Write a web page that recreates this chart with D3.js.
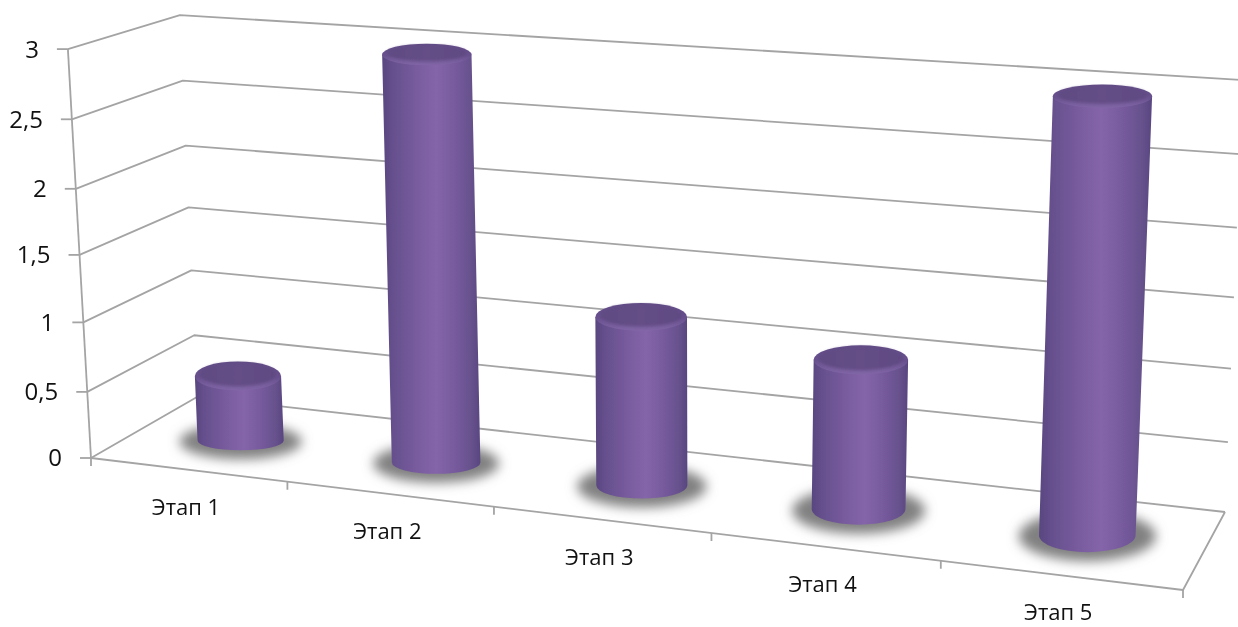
<!DOCTYPE html>
<html><head><meta charset="utf-8">
<script src="https://cdn.jsdelivr.net/npm/d3@7/dist/d3.min.js"></script>
<style>html,body{margin:0;padding:0;background:#fff}svg{display:block}text{font-family:"Open Sans","Noto Sans",sans-serif;fill:#111}</style>
</head><body><svg id="c" width="1238" height="627"></svg>
<script>
const categories = ["Этап 1","Этап 2","Этап 3","Этап 4","Этап 5"];
const values = [0.5,3,1.22,1.06,3.02];
const yTicks = [0,0.5,1,1.5,2,2.5,3];
const yTickLabels = ["0","0,5","1","1,5","2","2,5","3"];

const W=1238,H=627;
const svg=d3.select("#c");
// floor corners and per-unit vertical edge vectors of the 3D box
const FL=[91,458],FR=[1183,590],BL=[197,397],BR=[1225,512];
const dFL=[-7.7,-136.3],dFR=[7,-150],dBL=[-5.7,-127.3],dBR=[6,-144];
const lerp=(a,b,k)=>[a[0]+(b[0]-a[0])*k,a[1]+(b[1]-a[1])*k];
const bil=(a,b,c,d,t,v)=>lerp(lerp(a,b,t),lerp(c,d,t),v);
const K=1.14;
const uScale=d3.scaleLinear().domain([0,categories.length]).range([0,1]);
const zScale=d3.scaleLinear().domain(yTicks).range([0,0.485,0.995,1.49,1.975,2.485,3]);
const persp=u=>u/(u+K*(1-u));
const tOf=i=>persp(uScale(i));
const P=(t,v,z)=>{const f=bil(FL,FR,BL,BR,t,v),d=bil(dFL,dFR,dBL,dBR,t,v),w=zScale(z);return [f[0]+d[0]*w,f[1]+d[1]*w];};

const defs=svg.append("defs");
const bg=defs.append("linearGradient").attr("id","body");
[[0,"#584680"],[0.1,"#654f8c"],[0.32,"#765a9c"],[0.55,"#8565aa"],[0.78,"#73589a"],[0.93,"#64508a"],[1,"#574580"]]
 .forEach(s=>bg.append("stop").attr("offset",s[0]).attr("stop-color",s[1]));
const tg=defs.append("linearGradient").attr("id","topface").attr("x1",0).attr("x2",1).attr("y1",0).attr("y2",0);
[[0,"#5f4b82"],[0.5,"#654e86"],[1,"#5f4a82"]].forEach(s=>tg.append("stop").attr("offset",s[0]).attr("stop-color",s[1]));
const rg=defs.append("linearGradient").attr("id","rim").attr("x1",0).attr("x2",0).attr("y1",0).attr("y2",1);
[[0,"#604b84"],[0.55,"#69518f"],[1,"#8166a6"]].forEach(s=>rg.append("stop").attr("offset",s[0]).attr("stop-color",s[1]));
defs.append("filter").attr("id","soft").append("feGaussianBlur").attr("stdDeviation",0.6);
defs.append("filter").attr("id","softer").append("feGaussianBlur").attr("stdDeviation",1.4);
const sf=defs.append("filter").attr("id","shadowBlur").attr("x","-30%").attr("y","-80%").attr("width","160%").attr("height","260%");
sf.append("feGaussianBlur").attr("stdDeviation",6);

const line=d3.line();
const grid=svg.append("g").attr("fill","none").attr("stroke","#a4a4a4").attr("stroke-width",1.8).attr("stroke-linejoin","round").attr("filter","url(#soft)");
yTicks.forEach(z=>{
  grid.append("path").attr("d",line([P(0,0,z),P(0,1,z),P(1,1,z)]));
  const p=P(0,0,z);
  grid.append("path").attr("d",line([[p[0]-11,p[1]],p]));
});
grid.append("path").attr("d",line([P(0,0,0),P(0,0,3)]));
grid.append("path").attr("d",line([P(0,0,0),P(1,0,0),P(1,1,0)]));
d3.range(categories.length+1).forEach(i=>{
  const p=P(tOf(i),0,0);
  grid.append("path").attr("d",line([p,[p[0],p[1]+8]]));
});

const V=0.5;
const geo=values.map((val,i)=>{
  const t=tOf(i+0.5), dy=2.5-5*t, b0=P(t,V,0), a0=P(t,V,val), b=[b0[0]+2.5,b0[1]+dy], a=[a0[0]+2.5,a0[1]+dy];
  return {t,val,b,a,rxB:42.5+6.5*t,rxT:42.5+6.5*t+0.5*val*t,ryB:9+9*t,ryT:15.2+1.5*t-1.6*val};
});

const shadows=svg.append("g");
shadows.selectAll("ellipse").data(geo).join("ellipse")
 .attr("cx",d=>d.b[0]).attr("cy",d=>d.b[1]+1)
 .attr("rx",d=>d.rxB*1.42).attr("ry",d=>d.ryB+8)
 .attr("fill","#808080").attr("filter","url(#shadowBlur)");

const bars=svg.append("g").attr("filter","url(#soft)");
geo.forEach(d=>{
  const g=bars.append("g");
  const arc=`A${d.rxB},${d.ryB} 0 0 0 ${d.b[0]+d.rxB},${d.b[1]}`;
  g.append("path").attr("d",`M${d.a[0]-d.rxT},${d.a[1]}L${d.b[0]-d.rxB},${d.b[1]}${arc}L${d.a[0]+d.rxT},${d.a[1]}Z`).attr("fill","url(#body)");
  g.append("ellipse").attr("cx",d.a[0]).attr("cy",d.a[1]).attr("rx",d.rxT).attr("ry",d.ryT).attr("fill","url(#rim)");
  g.append("ellipse").attr("cx",d.a[0]).attr("cy",d.a[1]-1.5).attr("rx",d.rxT-5).attr("ry",d.ryT-3).attr("fill","url(#topface)").attr("filter","url(#softer)");
});

svg.append("g").selectAll("text").data(yTicks).join("text")
 .attr("x",z=>P(0,0,z)[0]-29).attr("y",z=>P(0,0,z)[1]+2)
 .attr("text-anchor","end").attr("dominant-baseline","middle")
 .attr("font-size",24).text((z,i)=>yTickLabels[i]);
svg.append("g").selectAll("text").data(categories).join("text")
 .attr("x",(c,i)=>P(tOf(i+0.5),0,0)[0]-2).attr("y",(c,i)=>P(tOf(i+0.5),0,0)[1]+39)
 .attr("text-anchor","middle").attr("dominant-baseline","middle")
 .attr("font-size",22).text(c=>c);
</script></body></html>
